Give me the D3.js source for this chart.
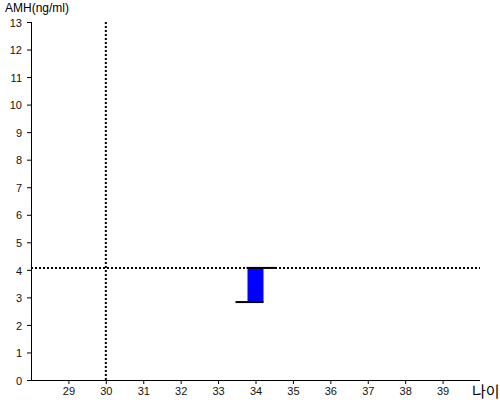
<!DOCTYPE html>
<html>
<head>
<meta charset="utf-8">
<script src="https://cdn.jsdelivr.net/npm/d3@7"></script>
<style>
body { margin: 0; background: #fff; }
text { font-family: Arial, "Liberation Sans", sans-serif; }
</style>
</head>
<body>
<div id="chart"></div>
<script>
// data
var ageTicks = [29, 30, 31, 32, 33, 34, 35, 36, 37, 38, 39];
var amhTicks = [0, 1, 2, 3, 4, 5, 6, 7, 8, 9, 10, 11, 12, 13];
var refAge = [30];
var refAmh = [4.07];
var barAge = [34];
var barLow = [2.83];
var barHigh = [4.07];

var width = 500, height = 400;

var x = d3.scaleLinear().domain([28, 40]).range([31, 480]);
var y = d3.scaleLinear().domain([0, 13]).range([380, 22]);

var svg = d3.select("#chart").append("svg")
    .attr("width", width)
    .attr("height", height);

// axes
var xAxis = svg.append("g")
    .attr("transform", "translate(0,380)")
    .call(d3.axisBottom(x).tickValues(ageTicks).tickSize(4).tickSizeOuter(0));
var yAxis = svg.append("g")
    .attr("transform", "translate(31,0)")
    .call(d3.axisLeft(y).tickValues(amhTicks).tickSize(4).tickSizeOuter(0));

[xAxis, yAxis].forEach(function (a) {
    a.select(".domain").attr("stroke", "#000").attr("stroke-width", 1);
    a.selectAll(".tick line").attr("stroke", "#000");
    a.selectAll(".tick text")
        .attr("fill", "#111")
        .style("font-size", "11px")
        .style("font-family", "Arial, 'Liberation Sans', sans-serif");
});
xAxis.selectAll(".tick text").attr("dy", "0.9em").attr("y", 5);
yAxis.selectAll(".tick text").attr("x", -9).attr("dy", "0.38em");
// y axis line runs up to the top tick
yAxis.select(".domain").attr("d", "M0.5," + y(13) + "V" + (y(0) + 0.5));
xAxis.select(".domain").attr("d", "M" + x(28) + ",0.5H" + x(40));

// axis titles
svg.append("text")
    .attr("x", 5).attr("y", 12)
    .style("font-size", "12px")
    .text("AMH(ng/ml)");
svg.append("text")
    .attr("x", 472).attr("y", 397)
    .style("font-size", "15px")
    .style("font-family", "'Noto Sans CJK KR', sans-serif")
    .text("나이");

// dotted reference lines
svg.selectAll(".vref").data(refAge).enter().append("line")
    .attr("x1", function (d) { return x(d); })
    .attr("x2", function (d) { return x(d); })
    .attr("y1", y(13)).attr("y2", y(0))
    .attr("stroke", "#000").attr("stroke-width", 2)
    .attr("stroke-dasharray", "2,2");
svg.selectAll(".href").data(refAmh).enter().append("line")
    .attr("x1", x(28)).attr("x2", x(40))
    .attr("y1", function (d) { return y(d); })
    .attr("y2", function (d) { return y(d); })
    .attr("stroke", "#000").attr("stroke-width", 2)
    .attr("stroke-dasharray", "2,2");

// bar with low/high ticks
var half = 8, ext = 12;
var bar = svg.selectAll(".bar").data(barAge).enter().append("g");
bar.append("rect")
    .attr("x", function (d) { return x(d) - half; })
    .attr("width", half * 2)
    .attr("y", function (d, i) { return y(barHigh[i]); })
    .attr("height", function (d, i) { return y(barLow[i]) - y(barHigh[i]); })
    .attr("fill", "#0000ff");
bar.append("line")
    .attr("x1", function (d) { return x(d) - half - 1; })
    .attr("x2", function (d) { return x(d) + half + ext + 1; })
    .attr("y1", function (d, i) { return y(barHigh[i]); })
    .attr("y2", function (d, i) { return y(barHigh[i]); })
    .attr("stroke", "#000").attr("stroke-width", 2);
bar.append("line")
    .attr("x1", function (d) { return x(d) - half - ext; })
    .attr("x2", function (d) { return x(d) + half; })
    .attr("y1", function (d, i) { return y(barLow[i]); })
    .attr("y2", function (d, i) { return y(barLow[i]); })
    .attr("stroke", "#000").attr("stroke-width", 2);
</script>
</body>
</html>
